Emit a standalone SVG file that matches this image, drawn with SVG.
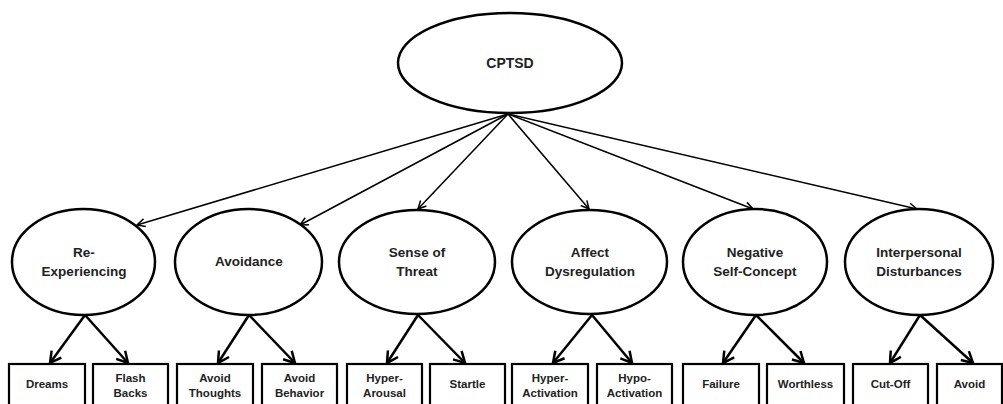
<svg xmlns="http://www.w3.org/2000/svg" width="1003" height="404" viewBox="0 0 1003 404">
<style>
.ell{fill:#fff;stroke:#000;stroke-width:2.5}
.box{fill:#fff;stroke:#000;stroke-width:2.2}
.t{font-family:"Liberation Sans",Arial,sans-serif;font-weight:bold;fill:#222;text-anchor:middle}
.lt{font-size:13.5px}
.st{font-size:11.5px}
.top{stroke:#000;stroke-width:1.5;fill:none}
.bot{stroke:#000;stroke-width:2.5;fill:none}
</style>
<defs>
<marker id="ah1" viewBox="-10 -6 12 12" refX="0" refY="0" markerWidth="12" markerHeight="12" markerUnits="userSpaceOnUse" orient="auto">
<path d="M-8,-4 L0,0 L-8,4" fill="none" stroke="#000" stroke-width="1.5"/>
</marker>
<marker id="ah2" viewBox="-13 -8 15 16" refX="0" refY="0" markerWidth="15" markerHeight="16" markerUnits="userSpaceOnUse" orient="auto">
<path d="M-11,-6 L0,0 L-11,6" fill="none" stroke="#000" stroke-width="2.5"/>
</marker>
</defs>
<rect width="1003" height="404" fill="#fff"/>
<g id="connectors">
<line class="top" x1="508" y1="114" x2="137" y2="225" marker-end="url(#ah1)"/>
<line class="top" x1="508" y1="114" x2="300" y2="225" marker-end="url(#ah1)"/>
<line class="top" x1="508" y1="114" x2="418" y2="209" marker-end="url(#ah1)"/>
<line class="top" x1="508" y1="114" x2="589" y2="209" marker-end="url(#ah1)"/>
<line class="top" x1="508" y1="114" x2="753" y2="209" marker-end="url(#ah1)"/>
<line class="top" x1="508" y1="114" x2="917" y2="209" marker-end="url(#ah1)"/>
<line class="bot" x1="85" y1="315" x2="50" y2="363" marker-end="url(#ah2)"/>
<line class="bot" x1="85" y1="315" x2="128" y2="363" marker-end="url(#ah2)"/>
<line class="bot" x1="249" y1="315" x2="218" y2="363" marker-end="url(#ah2)"/>
<line class="bot" x1="249" y1="315" x2="295" y2="363" marker-end="url(#ah2)"/>
<line class="bot" x1="418" y1="315" x2="387" y2="363" marker-end="url(#ah2)"/>
<line class="bot" x1="418" y1="315" x2="465" y2="363" marker-end="url(#ah2)"/>
<line class="bot" x1="592" y1="315" x2="553" y2="363" marker-end="url(#ah2)"/>
<line class="bot" x1="592" y1="315" x2="632" y2="363" marker-end="url(#ah2)"/>
<line class="bot" x1="756" y1="315" x2="723" y2="363" marker-end="url(#ah2)"/>
<line class="bot" x1="756" y1="315" x2="804" y2="363" marker-end="url(#ah2)"/>
<line class="bot" x1="920" y1="315" x2="890" y2="363" marker-end="url(#ah2)"/>
<line class="bot" x1="920" y1="315" x2="973" y2="363" marker-end="url(#ah2)"/>
</g>
<g id="cptsd">
<ellipse class="ell" cx="510" cy="63" rx="112" ry="50"/>
<text class="t" x="510" y="68" font-size="14">CPTSD</text>
</g>
<g id="reexperiencing">
<ellipse class="ell" cx="83.5" cy="262" rx="71.5" ry="53"/>
<text class="t lt" x="84" y="257">Re-</text>
<text class="t lt" x="84" y="276">Experiencing</text>
</g>
<g id="avoidance">
<ellipse class="ell" cx="248.5" cy="262" rx="73.5" ry="53"/>
<text class="t lt" x="249" y="266">Avoidance</text>
</g>
<g id="threat">
<ellipse class="ell" cx="417" cy="262" rx="78" ry="52"/>
<text class="t lt" x="417" y="257">Sense of</text>
<text class="t lt" x="417" y="276">Threat</text>
</g>
<g id="affect">
<ellipse class="ell" cx="589.5" cy="262" rx="77.5" ry="52"/>
<text class="t lt" x="590" y="257">Affect</text>
<text class="t lt" x="590" y="276">Dysregulation</text>
</g>
<g id="selfconcept">
<ellipse class="ell" cx="755" cy="262" rx="72" ry="53"/>
<text class="t lt" x="755" y="257">Negative</text>
<text class="t lt" x="755" y="276">Self-Concept</text>
</g>
<g id="interpersonal">
<ellipse class="ell" cx="919" cy="262" rx="74" ry="53"/>
<text class="t lt" x="919" y="257">Interpersonal</text>
<text class="t lt" x="919" y="276">Disturbances</text>
</g>
<g id="dreams">
<rect class="box" x="9" y="364" width="76" height="50"/>
<text class="t st" x="47" y="388">Dreams</text>
</g>
<g id="flashbacks">
<rect class="box" x="93" y="364" width="75" height="50"/>
<text class="t st" x="130.5" y="382">Flash</text>
<text class="t st" x="130.5" y="397">Backs</text>
</g>
<g id="avoidthoughts">
<rect class="box" x="177" y="364" width="76" height="50"/>
<text class="t st" x="215" y="382">Avoid</text>
<text class="t st" x="215" y="397">Thoughts</text>
</g>
<g id="avoidbehavior">
<rect class="box" x="262" y="364" width="75" height="50"/>
<text class="t st" x="299.5" y="382">Avoid</text>
<text class="t st" x="299.5" y="397">Behavior</text>
</g>
<g id="hyperarousal">
<rect class="box" x="347" y="364" width="75" height="50"/>
<text class="t st" x="384.5" y="382">Hyper-</text>
<text class="t st" x="384.5" y="397">Arousal</text>
</g>
<g id="startle">
<rect class="box" x="430" y="364" width="75" height="50"/>
<text class="t st" x="467.5" y="388">Startle</text>
</g>
<g id="hyperactivation">
<rect class="box" x="512" y="364" width="76" height="50"/>
<text class="t st" x="550" y="382">Hyper-</text>
<text class="t st" x="550" y="397">Activation</text>
</g>
<g id="hypoactivation">
<rect class="box" x="597" y="364" width="75" height="50"/>
<text class="t st" x="634.5" y="382">Hypo-</text>
<text class="t st" x="634.5" y="397">Activation</text>
</g>
<g id="failure">
<rect class="box" x="683" y="364" width="76" height="50"/>
<text class="t st" x="721" y="388">Failure</text>
</g>
<g id="worthless">
<rect class="box" x="767" y="364" width="77" height="50"/>
<text class="t st" x="805.5" y="388">Worthless</text>
</g>
<g id="cutoff">
<rect class="box" x="853" y="364" width="75" height="50"/>
<text class="t st" x="890.5" y="388">Cut-Off</text>
</g>
<g id="avoid">
<rect class="box" x="937" y="364" width="65" height="50"/>
<text class="t st" x="969.5" y="388">Avoid</text>
</g>
</svg>
